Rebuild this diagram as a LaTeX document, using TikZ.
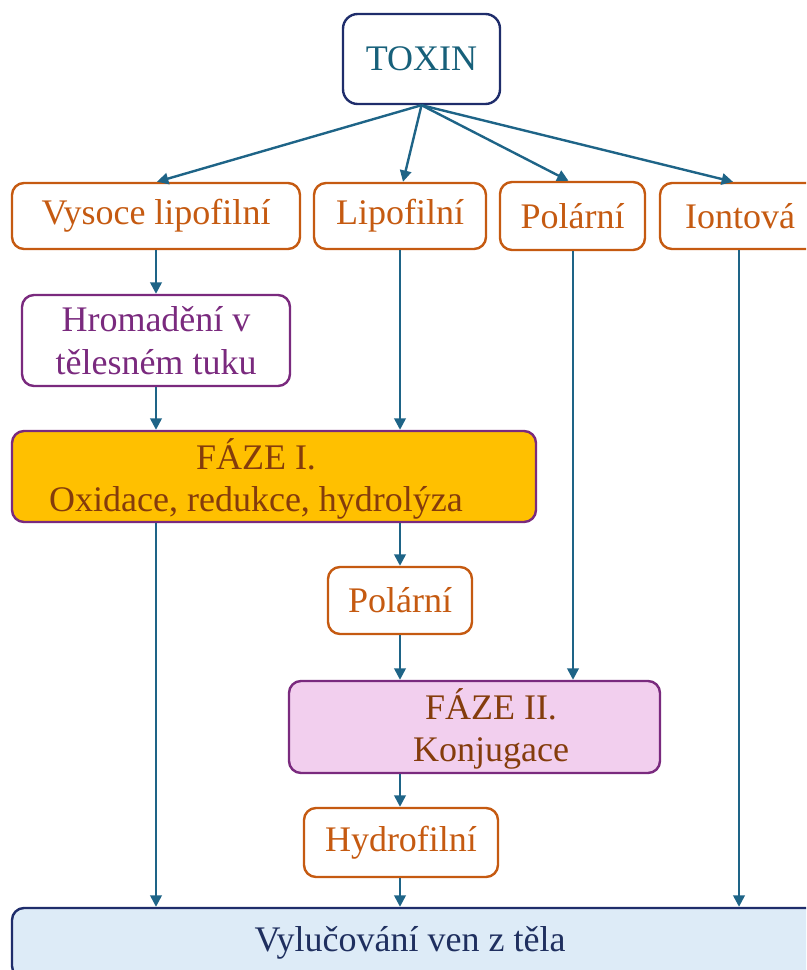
\documentclass[tikz,border=0pt]{standalone}
\usepackage{fontspec}
\setmainfont{Liberation Serif}
\usetikzlibrary{arrows.meta,calc}
\definecolor{arr}{RGB}{30,100,135}
\definecolor{navy}{RGB}{31,45,107}
\definecolor{toxt}{RGB}{23,96,122}
\definecolor{orng}{RGB}{197,90,17}
\definecolor{purp}{RGB}{122,42,126}
\definecolor{gold}{RGB}{255,192,0}
\definecolor{brwn}{RGB}{132,60,12}
\definecolor{pink}{RGB}{242,207,238}
\definecolor{lblue}{RGB}{221,235,247}
\definecolor{navyt}{RGB}{31,47,95}
\begin{document}
\begin{tikzpicture}[x=0.75pt,y=-0.75pt,
  box/.style={draw, rounded corners=9pt, line width=1.8pt, inner sep=0pt, align=center, font=\fontsize{27}{32}\selectfont},
  obox/.style={box, draw=orng, text=orng},
  pbox/.style={box, draw=purp, text=purp},
  txt/.style={inner sep=0pt, align=center, font=\fontsize{27}{32}\selectfont},
  conn/.style={draw=arr, line width=1.8pt, -{Triangle[length=8.5pt,width=8.5pt]}}]
\useasboundingbox (0,0) rectangle (806,970);
\clip (0,0) rectangle (806,970);

\node[box, draw=navy, text=toxt, rounded corners=11pt, minimum width=117.75pt, minimum height=67.5pt] (toxin) at (421.5,59) {TOXIN};

\node[obox, minimum width=216pt, minimum height=49.5pt] (vl) at (156,216) {Vysoce lipofilní};
\node[obox, minimum width=129pt, minimum height=49.5pt] (lip) at (400,216) {Lipofilní};
\node[obox, minimum width=108.75pt, minimum height=51pt] (pol1) at (572.5,216) {Polární};
\node[obox, minimum width=120pt, minimum height=49.5pt] (ion) at (740,216) {Iontová};

\node[pbox, minimum width=201pt, minimum height=68.25pt] (hrom) at (156,340.5) {Hromadění v\\tělesném tuku};

\node[box, draw=purp, fill=gold, minimum width=393pt, minimum height=68.25pt] (f1) at (274,476.5) {};
\node[txt, text=brwn] (f1t) at (256,479) {FÁZE I.\\Oxidace, redukce, hydrolýza};

\node[obox, minimum width=108pt, minimum height=50.25pt] (pol2) at (400,600.5) {Polární};

\node[box, draw=purp, fill=pink, minimum width=278.25pt, minimum height=69pt] (f2) at (474.5,727) {};
\node[txt, text=brwn] (f2t) at (491,729) {FÁZE II.\\Konjugace};

\node[obox, minimum width=145.5pt, minimum height=51.75pt] (hyd) at (401,842.5) {Hydrofilní};

\node[box, draw=navy, fill=lblue, minimum width=630pt, minimum height=52.5pt] (vyl) at (432,943) {};
\node[txt, text=navyt] (vylt) at (410,943) {Vylučování ven z těla};

% arrows from toxin
\draw[conn] (toxin.south) -- ($(vl.north)+(1,0)$);
\draw[conn] (toxin.south) -- ($(lip.north)+(3,0)$);
\draw[conn] (toxin.south) -- ($(pol1.north)+(-4,0)$);
\draw[conn] (toxin.south) -- ($(ion.north)+(-7,0)$);

% verticals
\draw[conn] (vl.south) -- (hrom.north);
\draw[conn] (hrom.south) -- (hrom.south |- f1.north);
\draw[conn] (lip.south) -- (lip.south |- f1.north);
\draw[conn] (f1.south -| hrom.south) -- (hrom.south |- vyl.north);
\draw[conn] (f1.south -| pol2.north) -- (pol2.north);
\draw[conn] (pol2.south) -- (pol2.south |- f2.north);
\draw[conn] ($(pol1.south)+(0.5,0)$) -- ($(pol1.south |- f2.north)+(0.5,0)$);
\draw[conn] (f2.south -| pol2.south) -- (pol2.south |- hyd.north);
\draw[conn] (hyd.south -| pol2.south) -- (pol2.south |- vyl.north);
\draw[conn] ($(ion.south)+(-1,0)$) -- ($(ion.south |- vyl.north)+(-1,0)$);
\end{tikzpicture}
\end{document}
